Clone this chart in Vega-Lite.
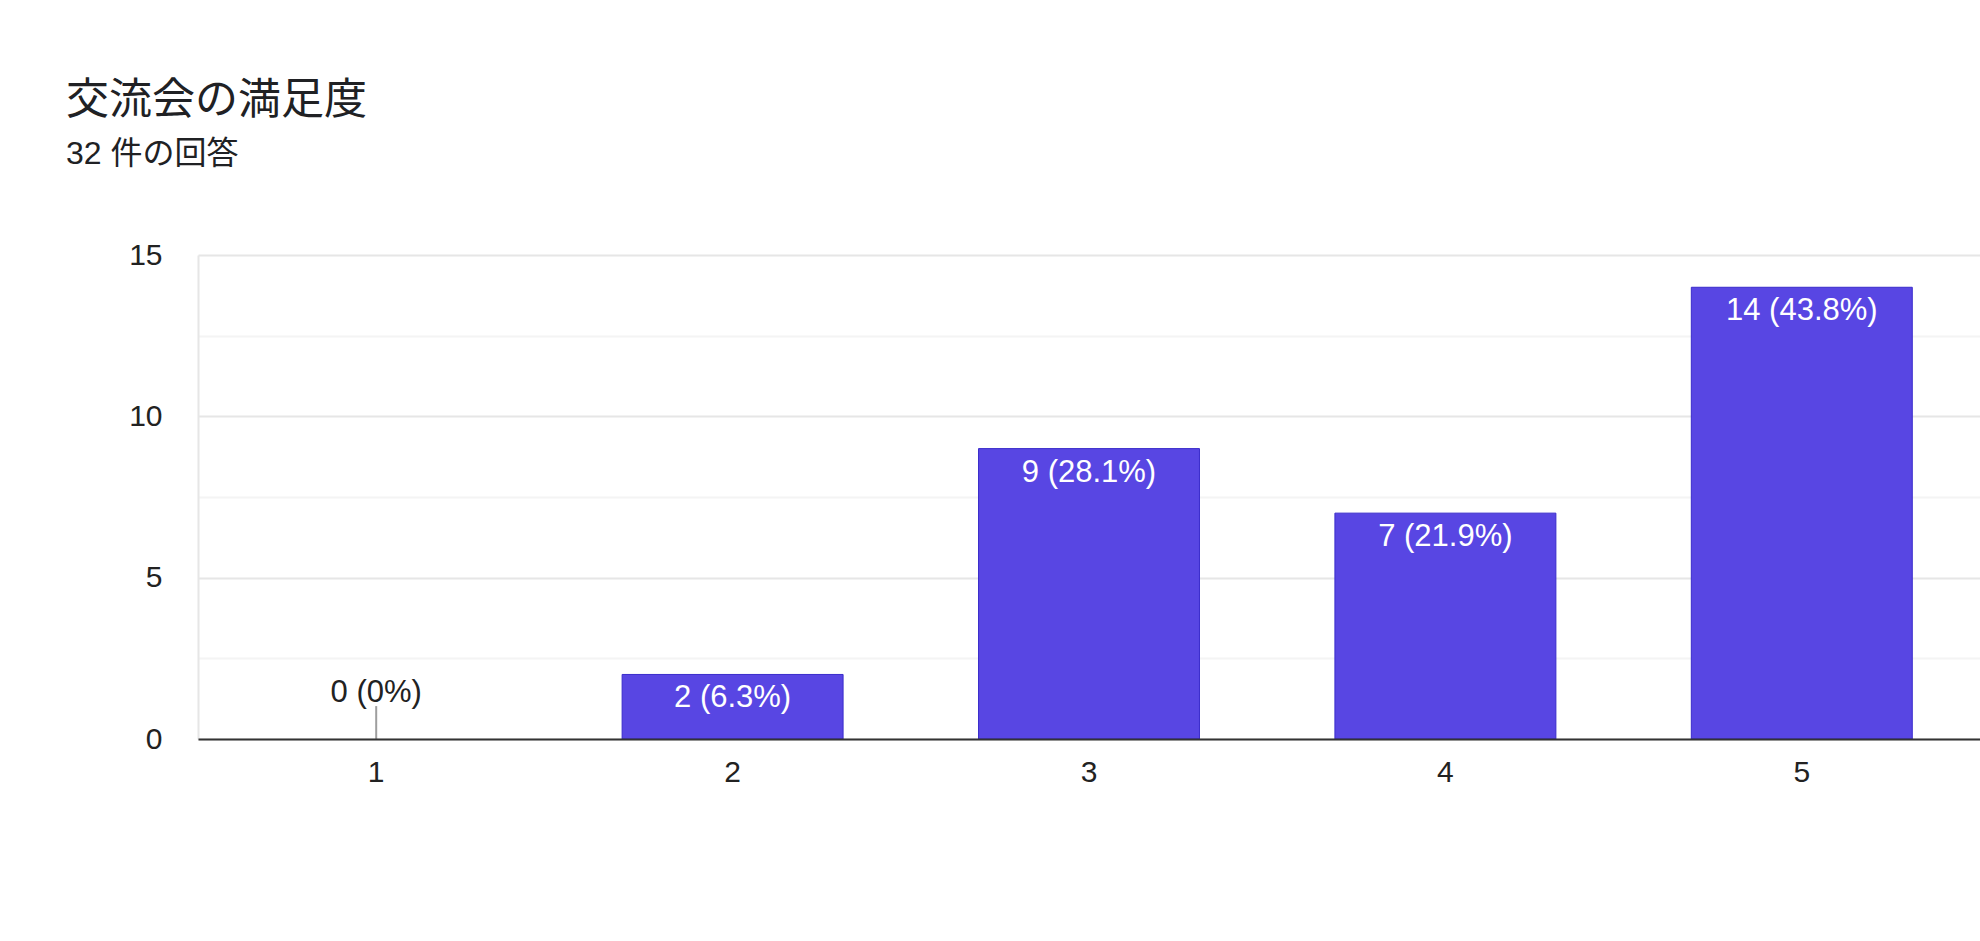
{
  "$schema": "https://vega.github.io/schema/vega-lite/v6.json",
  "width": 1782,
  "height": 484,
  "autosize": "none",
  "padding": {"left": 198, "top": 255, "right": 0, "bottom": 202},
  "background": "white",
  "title": {
    "text": "交流会の満足度",
    "subtitle": "32 件の回答",
    "anchor": "start",
    "frame": "group",
    "dx": -132,
    "offset": 70,
    "font": "Liberation Sans, Noto Sans CJK JP",
    "fontSize": 43,
    "fontWeight": "normal",
    "color": "#202124",
    "subtitleFont": "Liberation Sans, Noto Sans CJK JP",
    "subtitleFontSize": 32,
    "subtitleColor": "#202124",
    "subtitlePadding": 16
  },
  "config": {
    "view": {"stroke": null},
    "font": "Liberation Sans"
  },
  "data": {
    "values": [
      {"score": "1", "count": 0, "label": "0 (0%)"},
      {"score": "2", "count": 2, "label": "2 (6.3%)"},
      {"score": "3", "count": 9, "label": "9 (28.1%)"},
      {"score": "4", "count": 7, "label": "7 (21.9%)"},
      {"score": "5", "count": 14, "label": "14 (43.8%)"}
    ]
  },
  "encoding": {
    "x": {
      "field": "score",
      "type": "ordinal",
      "scale": {"paddingInner": 0.38, "paddingOuter": 0.19},
      "axis": {
        "title": null,
        "labelAngle": 0,
        "ticks": false,
        "domainColor": "#333333",
        "domainWidth": 2,
        "labelFontSize": 30,
        "labelColor": "#222222",
        "labelPadding": 18,
        "zindex": 1
      }
    },
    "y": {
      "field": "count",
      "type": "quantitative",
      "scale": {"domain": [0, 15], "nice": false},
      "axis": {
        "title": null,
        "values": [0, 2.5, 5, 7.5, 10, 12.5, 15],
        "labelExpr": "datum.value % 5 === 0 ? datum.label : ''",
        "ticks": false,
        "domainColor": "#e6e6e6",
        "domainWidth": 2,
        "gridColor": {"condition": {"test": "datum.value % 5 === 0", "value": "#e6e6e6"}, "value": "#f4f4f4"},
        "gridWidth": 2,
        "labelFontSize": 30,
        "labelColor": "#222222",
        "labelPadding": 36
      }
    }
  },
  "layer": [
    {
      "transform": [{"filter": "datum.count > 0"}],
      "mark": {"type": "bar", "color": "#5846e3", "stroke": "#3a2ccb", "strokeWidth": 1}
    },
    {
      "transform": [{"filter": "datum.count == 0"}],
      "mark": {"type": "rule", "color": "#9e9e9e", "strokeWidth": 2},
      "encoding": {"y2": {"datum": 1.02}}
    },
    {
      "transform": [{"filter": "datum.count == 0"}],
      "mark": {"type": "text", "fontSize": 31, "color": "#222222", "baseline": "alphabetic", "dy": -37},
      "encoding": {"text": {"field": "label"}}
    },
    {
      "transform": [{"filter": "datum.count > 0"}],
      "mark": {"type": "text", "fontSize": 31, "color": "#ffffff", "baseline": "alphabetic", "dy": 33},
      "encoding": {"text": {"field": "label"}}
    }
  ]
}
